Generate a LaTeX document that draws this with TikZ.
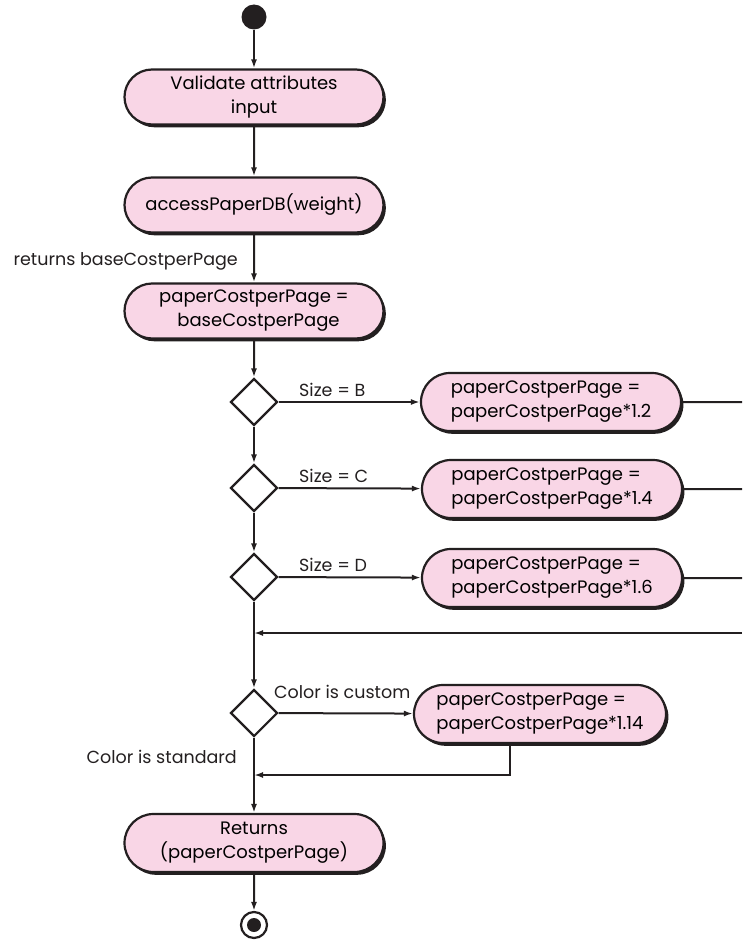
\documentclass[tikz,border=0pt]{standalone}
\usepackage{fontspec}
\setmainfont{Poppins}
\usetikzlibrary{shapes.misc,shapes.geometric,arrows.meta,shadows}
\definecolor{actpink}{RGB}{249,214,230}
\definecolor{ink}{RGB}{35,31,32}
\begin{document}
\begin{tikzpicture}[x=1pt,y=-1pt,
  act/.style={rounded rectangle, draw=ink, line width=2.2pt, fill=actpink,
    minimum width=265pt, minimum height=55pt, inner sep=3pt,
    font=\fontsize{18}{24}\selectfont,
    drop shadow={shadow xshift=2.4pt, shadow yshift=-2.8pt, opacity=1, fill=ink}},
  dec/.style={diamond, draw=ink, line width=2.2pt, fill=white, minimum width=47pt, minimum height=47pt, aspect=1, inner sep=0pt},
  lbl/.style={font=\fontsize{17.5}{20}\selectfont, inner sep=0pt, text=ink},
  flow/.style={draw=ink, line width=2pt, -{Latex[length=9pt,width=6pt]}},
  plain/.style={draw=ink, line width=2pt}]
\useasboundingbox (0,0) rectangle (742,942);
\node[circle, fill=ink, minimum size=25pt, inner sep=0pt] (start) at (254,17) {};
\node[act, align=center] (n1) at (254,97) {Validate attributes\\input};
\node[act, align=center] (n2) at (254,205) {accessPaperDB(weight)};
\node[act, align=center] (n3) at (254,311) {paperCostperPage =\\\,\,\,baseCostperPage};
\node[dec] (d1) at (254,402) {};
\node[dec] (d2) at (254,488) {};
\node[dec] (d3) at (254,577) {};
\coordinate (m) at (254,633);
\node[dec] (d4) at (254,713) {};
\node[act, align=left, minimum width=266pt, minimum height=58pt] (nB) at (551,402) {paperCostperPage =\\paperCostperPage*1.2};
\node[act, align=left, minimum width=266pt, minimum height=58pt] (nC) at (552,489) {paperCostperPage =\\paperCostperPage*1.4};
\node[act, align=left, minimum width=266pt, minimum height=58pt] (nD) at (552,578) {paperCostperPage =\\paperCostperPage*1.6};
\node[act, align=left, minimum width=258pt, minimum height=58pt] (nE) at (540,714) {paperCostperPage =\\paperCostperPage*1.14};
\node[act, align=center, minimum height=58pt] (nF) at (254,843) {Returns\\(paperCostperPage)};
\node[circle, draw=ink, line width=2.2pt, minimum size=26pt, inner sep=0pt] (end) at (254,925) {};
\node[circle, fill=ink, minimum size=14pt, inner sep=0pt] (endin) at (254,925) {};
\coordinate (eB) at (742,402);
\coordinate (eC) at (742,489);
\coordinate (eD) at (742,578);
\coordinate (eR) at (742,633);
\coordinate (eE) at (510,775);
\coordinate (jE) at (254,775);
% connectors
\draw[flow] (start) -- (n1);
\draw[flow] (n1) -- (n2);
\draw[flow] (n2) -- (n3);
\draw[flow] (n3) -- (d1);
\draw[flow] (d1) -- (d2);
\draw[flow] (d2) -- (d3);
\draw[flow] (d3) -- (d4);
\draw[flow] (d4) -- (nF);
\draw[flow] (nF) -- (end);
\draw[flow] (d1) -- (nB);
\draw[flow] (d2) -- (nC);
\draw[flow] (d3) -- (nD);
\draw[flow] (d4) -- (nE);
\draw[plain] (nB) -- (eB);
\draw[plain] (nC) -- (eC);
\draw[plain] (nD) -- (eD);
\draw[flow] (eR) -- (m);
\draw[flow] (nE.south -| eE) -- (eE) -- (jE);
% labels
\node[lbl, anchor=base east] (lr) at (238,265) {returns baseCostperPage};
\node[lbl, anchor=base west] (lB) at (299,396) {Size = B};
\node[lbl, anchor=base west] (lC) at (299,482) {Size = C};
\node[lbl, anchor=base west] (lD) at (299,571) {Size = D};
\node[lbl, anchor=base west] (lE) at (274,698) {Color is custom};
\node[lbl, anchor=base east] (lS) at (237,763) {Color is standard};
\end{tikzpicture}
\end{document}
